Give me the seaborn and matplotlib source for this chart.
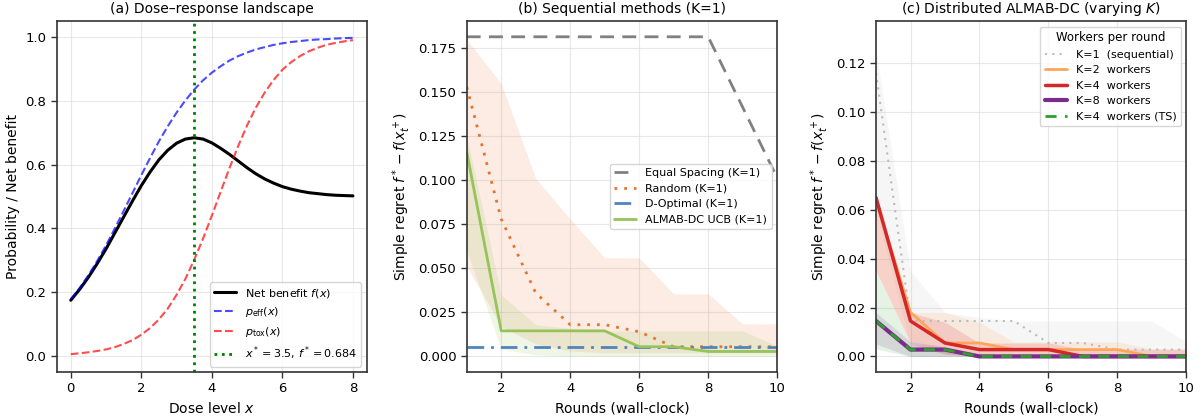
import numpy as np
import pandas as pd
import matplotlib
matplotlib.use("Agg")
import matplotlib.pyplot as plt
import seaborn as sns

# ---------- DATA: panel (a) dose-response curves ----------
dose = [0.0, 0.25, 0.5, 0.75, 1.0, 1.25, 1.5, 1.75, 2.0, 2.25, 2.5, 2.75, 3.0, 3.25,
        3.5, 3.75, 4.0, 4.25, 4.5, 4.75, 5.0, 5.25, 5.5, 5.75, 6.0, 6.25, 6.5, 6.75,
        7.0, 7.25, 7.5, 7.75, 8.0]
p_eff = [0.178, 0.213, 0.253, 0.298, 0.347, 0.400, 0.455, 0.511, 0.567, 0.621, 0.673,
         0.720, 0.763, 0.801, 0.835, 0.864, 0.888, 0.908, 0.926, 0.940, 0.951, 0.961,
         0.968, 0.975, 0.980, 0.984, 0.987, 0.990, 0.992, 0.993, 0.995, 0.996, 0.997]
p_tox = [0.006, 0.009, 0.012, 0.016, 0.021, 0.028, 0.038, 0.050, 0.067, 0.088, 0.115,
         0.149, 0.192, 0.242, 0.302, 0.368, 0.440, 0.515, 0.589, 0.659, 0.723, 0.779,
         0.826, 0.865, 0.897, 0.921, 0.940, 0.955, 0.966, 0.975, 0.981, 0.986, 0.990]
net_benefit = [0.175, 0.209, 0.247, 0.290, 0.336, 0.386, 0.436, 0.486, 0.534, 0.577,
               0.615, 0.645, 0.667, 0.680, 0.684, 0.680, 0.668, 0.651, 0.632, 0.611,
               0.590, 0.571, 0.555, 0.542, 0.531, 0.523, 0.517, 0.512, 0.509, 0.506,
               0.504, 0.503, 0.502]
x_opt = 3.5
f_opt = 0.684

# ---------- DATA: panel (b) sequential methods ----------
rounds = [1, 2, 3, 4, 5, 6, 7, 8, 9, 10]
equal_mean = [0.1815, 0.1815, 0.1815, 0.1815, 0.1815, 0.1815, 0.1815, 0.1815, 0.1415, 0.1015]
random_mean = [0.153, 0.078, 0.036, 0.018, 0.018, 0.014, 0.0055, 0.0055, 0.0055, 0.0055]
random_lo = [0.051, 0.017, 0.007, 0.003, 0.002, 0.002, 0.002, 0.002, 0.002, 0.002]
random_hi = [0.180, 0.155, 0.101, 0.078, 0.056, 0.056, 0.0355, 0.0355, 0.0185, 0.0185]
dopt_mean = [0.0055, 0.0055, 0.0055, 0.0055, 0.0055, 0.0055, 0.0055, 0.0055, 0.0055, 0.0055]
ucb_mean = [0.116, 0.0145, 0.0145, 0.0145, 0.0145, 0.0055, 0.0055, 0.0028, 0.0028, 0.0028]
ucb_lo = [0.060, 0.004, 0.001, 0.0, 0.0, 0.0, 0.0, 0.0, 0.0, 0.0]
ucb_hi = [0.125, 0.035, 0.018, 0.016, 0.0145, 0.0145, 0.0145, 0.0145, 0.0145, 0.006]

# ---------- DATA: panel (c) distributed, varying K ----------
k1_mean = ucb_mean
k1_lo = ucb_lo
k1_hi = ucb_hi
k2_mean = [0.064, 0.018, 0.0055, 0.0055, 0.0028, 0.0028, 0.0028, 0.0028, 0.0, 0.0]
k2_lo = [0.035, 0.006, 0.001, 0.0, 0.0, 0.0, 0.0, 0.0, 0.0, 0.0]
k2_hi = [0.066, 0.018, 0.018, 0.014, 0.006, 0.006, 0.006, 0.006, 0.003, 0.003]
k4_mean = [0.065, 0.0145, 0.0055, 0.0028, 0.0028, 0.0028, 0.0, 0.0, 0.0, 0.0]
k4_lo = [0.035, 0.005, 0.001, 0.0, 0.0, 0.0, 0.0, 0.0, 0.0, 0.0]
k4_hi = [0.065, 0.018, 0.014, 0.0055, 0.0055, 0.0055, 0.003, 0.003, 0.003, 0.003]
k8_mean = [0.0145, 0.0028, 0.0028, 0.0, 0.0, 0.0, 0.0, 0.0, 0.0, 0.0]
k8_lo = [0.005, 0.0, 0.0, 0.0, 0.0, 0.0, 0.0, 0.0, 0.0, 0.0]
k8_hi = [0.018, 0.006, 0.004, 0.001, 0.001, 0.001, 0.001, 0.001, 0.001, 0.001]
k4ts_mean = [0.0145, 0.0028, 0.0028, 0.0, 0.0, 0.0, 0.0, 0.0, 0.0, 0.0]
k4ts_lo = [0.003, 0.0, 0.0, 0.0, 0.0, 0.0, 0.0, 0.0, 0.0, 0.0]
k4ts_hi = [0.035, 0.005, 0.003, 0.001, 0.001, 0.001, 0.001, 0.001, 0.001, 0.001]

# ---------- STYLE ----------
sns.set_theme(style="ticks")
plt.rcParams.update({
    "font.family": ["DejaVu Sans"],
    "font.size": 10,
    "axes.titlesize": 10,
    "axes.labelsize": 10,
    "xtick.labelsize": 9.5,
    "ytick.labelsize": 9.5,
    "legend.fontsize": 8,
    "axes.edgecolor": "0.2",
    "axes.linewidth": 1.2,
    "text.color": "black",
    "axes.labelcolor": "black",
    "xtick.color": "black",
    "ytick.color": "black",
})

fig = plt.figure(figsize=(12.03, 4.19), dpi=100)
ax_a = fig.add_axes([0.0471, 0.112, 0.258, 0.838])
ax_b = fig.add_axes([0.3880, 0.112, 0.258, 0.838])
ax_c = fig.add_axes([0.7282, 0.112, 0.258, 0.838])

# ---------- (a) ----------
sns.lineplot(x=dose, y=net_benefit, ax=ax_a, color="black", lw=2.2, label=r"Net benefit $f(x)$")
sns.lineplot(x=dose, y=p_eff, ax=ax_a, color="blue", alpha=0.7, lw=1.5, ls="--",
             label=r"$p_{\mathrm{eff}}(x)$")
sns.lineplot(x=dose, y=p_tox, ax=ax_a, color="red", alpha=0.7, lw=1.5, ls="--",
             label=r"$p_{\mathrm{tox}}(x)$")
ax_a.axvline(x_opt, color="green", ls=":", lw=2,
             label=rf"$x^*={x_opt}$, $f^*={f_opt:.3f}$")
ax_a.set_xlim(-0.4, 8.4)
ax_a.set_ylim(-0.05, 1.05)
ax_a.set_xlabel(r"Dose level $x$")
ax_a.set_ylabel("Probability / Net benefit")
ax_a.set_title("(a) Dose\u2013response landscape")
ax_a.legend(loc="lower right")

# ---------- (b) ----------
ax_b.fill_between(rounds, random_lo, random_hi, color="#e8732e", alpha=0.13, lw=0)
ax_b.fill_between(rounds, ucb_lo, ucb_hi, color="#96c35a", alpha=0.15, lw=0)
sns.lineplot(x=rounds, y=equal_mean, ax=ax_b, color="gray", lw=2, ls=(0, (5, 3)),
             label="Equal Spacing (K=1)")
sns.lineplot(x=rounds, y=random_mean, ax=ax_b, color="#e8732e", lw=2, ls=(0, (1, 2.5)),
             label="Random (K=1)")
sns.lineplot(x=rounds, y=dopt_mean, ax=ax_b, color="#4f84be", lw=2, ls=(0, (6, 2.5, 1, 2.5)),
             label="D-Optimal (K=1)")
sns.lineplot(x=rounds, y=ucb_mean, ax=ax_b, color="#96c35a", lw=2,
             label="ALMAB-DC UCB (K=1)")
ax_b.set_xlim(1, 10)
ax_b.set_ylim(-0.0089, 0.1905)
ax_b.set_yticks([0.0, 0.025, 0.05, 0.075, 0.1, 0.125, 0.15, 0.175])
ax_b.set_yticklabels([f"{v:.3f}" for v in ax_b.get_yticks()])
ax_b.set_xticks([2, 4, 6, 8, 10])
ax_b.set_xlabel("Rounds (wall-clock)")
ax_b.set_ylabel(r"Simple regret $f^* - f(x_t^+)$")
ax_b.set_title("(b) Sequential methods (K=1)")
ax_b.legend(loc="center right")

# ---------- (c) ----------
bands = [
    (k1_lo, k1_hi, "#bbbbbb", 0.12),
    (k2_lo, k2_hi, "#ffa55a", 0.15),
    (k4_lo, k4_hi, "#d62728", 0.15),
    (k8_lo, k8_hi, "#7b2a8e", 0.15),
    (k4ts_lo, k4ts_hi, "#2ca02c", 0.12),
]
for lo, hi, col, a in bands:
    ax_c.fill_between(rounds, lo, hi, color=col, alpha=a, lw=0)

sns.lineplot(x=rounds, y=k1_mean, ax=ax_c, color="#bbbbbb", lw=1.5, ls=(0, (1, 2.5)),
             label="K=1  (sequential)")
sns.lineplot(x=rounds, y=k2_mean, ax=ax_c, color="#ffa55a", lw=2,
             label="K=2  workers")
sns.lineplot(x=rounds, y=k4_mean, ax=ax_c, color="#d62728", lw=2.5,
             label="K=4  workers")
sns.lineplot(x=rounds, y=k8_mean, ax=ax_c, color="#7b2a8e", lw=3,
             label="K=8  workers")
sns.lineplot(x=rounds, y=k4ts_mean, ax=ax_c, color="#2ca02c", lw=2, ls=(0, (4, 3)),
             label="K=4  workers (TS)")
ax_c.set_xlim(1, 10)
ax_c.set_ylim(-0.0064, 0.1373)
ax_c.set_yticks([0.0, 0.02, 0.04, 0.06, 0.08, 0.10, 0.12])
ax_c.set_yticklabels([f"{v:.2f}" for v in ax_c.get_yticks()])
ax_c.set_xticks([2, 4, 6, 8, 10])
ax_c.set_xlabel("Rounds (wall-clock)")
ax_c.set_ylabel(r"Simple regret $f^* - f(x_t^+)$")
ax_c.set_title(r"(c) Distributed ALMAB-DC (varying $K$)")
ax_c.legend(loc="upper right", title="Workers per round", title_fontsize=8.5)

for ax in (ax_a, ax_b, ax_c):
    ax.grid(True, color="0.85", alpha=0.6, lw=0.8)
    ax.tick_params(direction="out", length=4, width=1, color="0.2")

fig.savefig("out.png", dpi=100)
